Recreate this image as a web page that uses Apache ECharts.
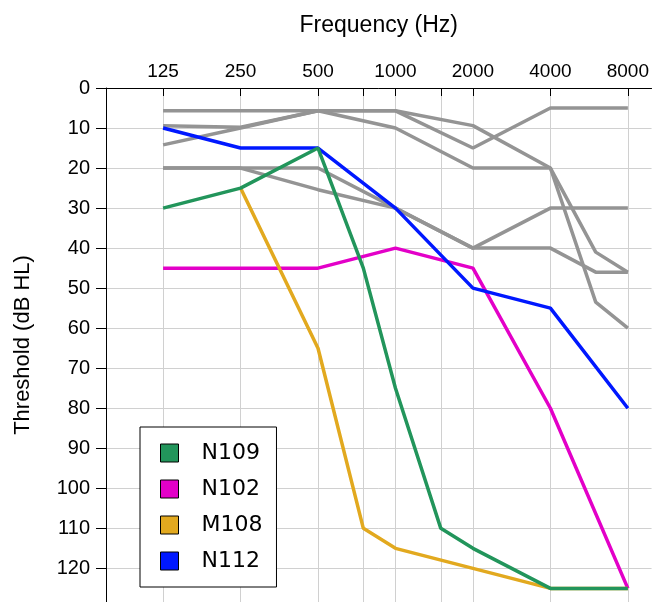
<!DOCTYPE html>
<html>
<head>
<meta charset="utf-8">
<script src="https://cdn.jsdelivr.net/npm/echarts@6/dist/echarts.min.js"></script>
<style>
  html, body { margin: 0; padding: 0; background: #fff; }
  #drew { width: 652px; height: 602px; }
</style>
</head>
<body>
<div id="drew"></div>
<script>
// frequencies (Hz) where thresholds were measured; null = not measured
var freqs = [125, 250, 500, 750, 1000, 1500, 2000, 4000, 6000, 8000];
var tickFreqs = [125, 250, 500, 750, 1000, 1500, 2000, 4000, 8000];
var labelFreqs = [125, 250, 500, 1000, 2000, 4000, 8000];

// highlighted subjects (dB HL)
var n109 = [30, 25, 15, 45, 75, 110, 115, 125, null, 125];
var n102 = [45, 45, 45, null, 40, null, 45, 80, null, 125];
var m108 = [null, 25, 65, 110, 115, null, 120, 125, null, 125];
var n112 = [10, 15, 15, null, 30, null, 50, 55, null, 80];

// other subjects, drawn grey
var g1 = [5.7, 5.7, 5.7, null, 5.7, null, 9.4, 20, 41, 46];
var g2 = [14.2, 10, 5.7, null, 10, null, 20, 20, 53.5, 60];
var g3 = [9.4, 9.8, 5.7, null, 5.7, null, 15, 5, null, 5];
var g4 = [20, 20, 20, null, 30, null, 40, 30, null, 30];
var g5 = [20, 20, 25.4, null, 30, null, 40, 40, 46, 46];

var font = 'Liberation Sans, Arial, sans-serif';

function pts(vals) {
    // x in log2(Hz) so the value axis behaves like an octave scale
    var out = [];
    for (var i = 0; i < freqs.length; i++) {
        if (vals[i] !== null) out.push([Math.log2(freqs[i]), vals[i]]);
    }
    return out;
}

function line(name, vals, color, show) {
    return {
        name: name,
        type: 'line',
        data: pts(vals),
        symbol: 'none',
        silent: true,
        z: show ? 3 : 2,
        lineStyle: { color: color, width: 3.5 },
        itemStyle: { color: color, borderColor: '#000', borderWidth: 1 }
    };
}

var myChart = echarts.init(document.getElementById('drew'));
var option = {
    animation: false,
    backgroundColor: '#fff',
    grid: { left: 106, top: 88, right: 0, bottom: 0 },
    legend: {
        data: ['N109', 'N102', 'M108', 'N112'],
        orient: 'vertical',
        left: 140,
        top: 427,
        icon: 'rect',
        itemWidth: 18,
        itemHeight: 18,
        itemGap: 14,
        padding: [15, 14, 15, 20],
        backgroundColor: '#fff',
        borderColor: '#000',
        borderWidth: 1,
        borderRadius: 0,
        itemStyle: { borderColor: '#000', borderWidth: 1 },
        textStyle: {
            fontFamily: 'DejaVu Sans',
            fontSize: 22,
            color: '#000',
            padding: [0, 0, 0, 18]
        }
    },
    xAxis: {
        type: 'value',
        position: 'top',
        min: Math.log2(75),
        max: Math.log2(9888),
        name: 'Frequency (Hz)',
        nameLocation: 'middle',
        nameGap: 51,
        nameTextStyle: { fontFamily: font, fontSize: 23, color: '#000' },
        axisLine: { show: true, lineStyle: { color: '#000', width: 1 } },
        axisTick: {
            show: true,
            inside: true,
            length: 8,
            lineStyle: { color: '#000' },
            customValues: tickFreqs.map(Math.log2)
        },
        axisLabel: {
            fontFamily: font,
            fontSize: 19,
            color: '#000',
            margin: 7,
            customValues: labelFreqs.map(Math.log2),
            formatter: function (v) { return String(Math.round(Math.pow(2, v))); }
        },
        splitLine: { show: true, lineStyle: { color: '#d0d0d0', width: 1 } }
    },
    yAxis: {
        type: 'value',
        inverse: true,
        min: 0,
        max: 128.4,
        interval: 10,
        name: 'Threshold (dB HL)',
        nameLocation: 'middle',
        nameGap: 72,
        nameTextStyle: { fontFamily: font, fontSize: 22, color: '#000' },
        axisLine: { show: true, lineStyle: { color: '#000', width: 1 } },
        axisTick: { show: true, length: 10, lineStyle: { color: '#000' } },
        axisLabel: {
            fontFamily: font,
            fontSize: 20,
            color: '#000',
            margin: 16,
            showMaxLabel: false,
            formatter: function (v) { return v % 10 === 0 ? String(v) : ''; }
        },
        splitLine: { show: true, lineStyle: { color: '#d0d0d0', width: 1 } }
    },
    series: [
        line('g1', g1, '#949494', false),
        line('g2', g2, '#949494', false),
        line('g3', g3, '#949494', false),
        line('g4', g4, '#949494', false),
        line('g5', g5, '#949494', false),
        line('N102', n102, '#E300C8', true),
        line('M108', m108, '#E2A91F', true),
        line('N112', n112, '#0018FF', true),
        line('N109', n109, '#22955B', true)
    ]
};
myChart.setOption(option);
window.addEventListener('resize', function () { myChart.resize(); });
</script>
</body>
</html>
